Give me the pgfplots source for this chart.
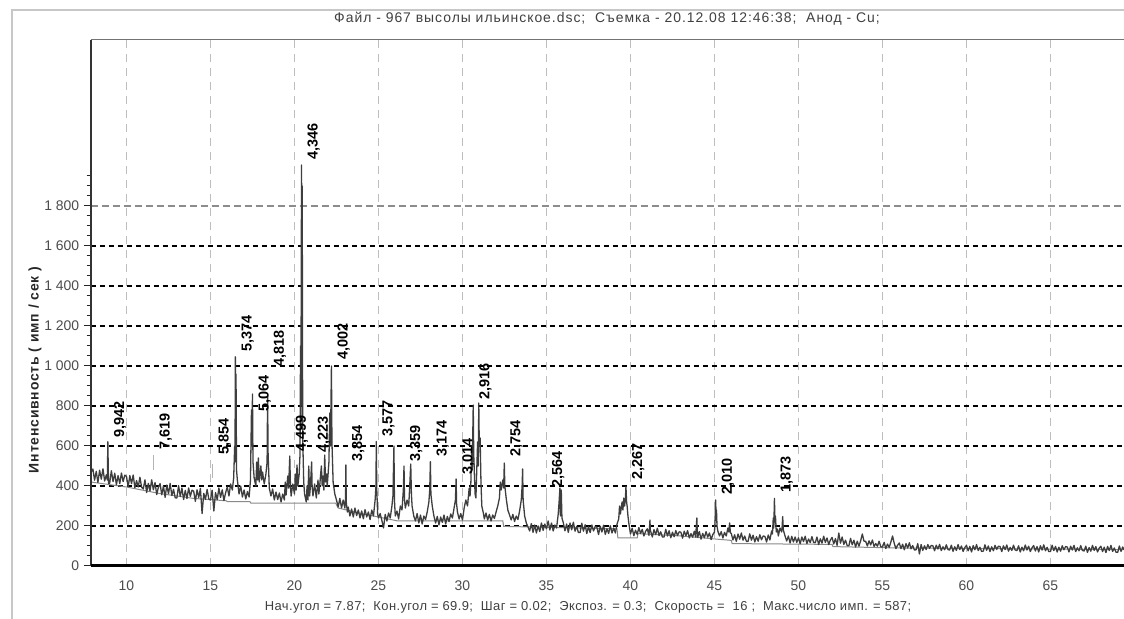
\documentclass[border=0pt]{standalone}
\usepackage{fontspec}
\setmainfont{Liberation Sans}
\usepackage{pgfplots}
\pgfplotsset{compat=1.18}
\definecolor{dat}{HTML}{3E3E3E}
\definecolor{bas}{HTML}{8A8A8A}
\definecolor{stk}{HTML}{B4B4B4}
\definecolor{vgrid}{HTML}{BDBDBD}
\newcommand{\pk}[3]{\node[rotate=90, anchor=north west, inner sep=0pt, font=\bfseries\fontsize{14.5}{16}\selectfont] at (axis cs:#1,#2) {#3};}
\begin{document}
\begin{tikzpicture}[x=1bp,y=1bp]
\useasboundingbox (0,0) rectangle (1124,619);
\fill[white] (0,0) rectangle (1124,619);
\draw[black!22, line width=1.5bp] (12,0) -- (12,609) -- (1124,609);
\node[font=\fontsize{14}{16}\selectfont\addfontfeatures{LetterSpace=7}, text=black!75] at (607,600) {Файл - 967 высолы ильинское.dsc;\ \ Съемка - 20.12.08 12:46:38;\ \ Анод - Cu;};
\node[font=\fontsize{13}{15}\selectfont\addfontfeatures{LetterSpace=3}, text=black!75] at (588,12) {Нач.угол = 7.87;\ \ Кон.угол = 69.9;\ \ Шаг = 0.02;\ \ Экспоз. = 0.3;\ \ Скорость = \ 16 ;\ \ Макс.число имп. = 587;};
\node[rotate=90, font=\bfseries\fontsize{14}{16}\selectfont\addfontfeatures{LetterSpace=6}, text=black!85] at (35,249) {Интенсивность ( имп / сек )};
\begin{axis}[
  at={(90.7bp,53bp)}, anchor=south west, scale only axis,
  width=1033.3bp, height=526bp,
  xmin=7.87, xmax=69.38, ymin=0, ymax=2630,
  clip=false,
  axis line style={draw=none},
  xtick={10,15,20,25,30,35,40,45,50,55,60,65},
  xticklabels={10,15,20,25,30,35,40,45,50,55,60,65},
  xmajorgrids=true,
  major grid style={vgrid, line width=0.9bp, dash pattern=on 8bp off 6bp},
  major x tick style={draw=none},
  xticklabel style={font=\fontsize{14}{16}\selectfont, text=black!70, yshift=-4bp},
  ytick={0,200,400,600,800,1000,1200,1400,1600,1800},
  yticklabels={0,200,400,600,800,1 000,1 200,1 400,1 600,1 800},
  minor ytick={50,100,150,250,300,350,450,500,550,650,700,750,850,900,950,1050,1100,1150,1250,1300,1350,1450,1500,1550,1650,1700,1750,1850,1900,1950},
  ytick pos=left, tick align=outside,
  major tick length=7bp, minor tick length=4bp,
  every tick/.style={black!85, line width=1bp},
  yticklabel style={font=\fontsize{14}{16}\selectfont, text=black!70, xshift=-1bp},
  extra y ticks={200,400,600,800,1000,1200,1400,1600},
  extra y tick labels={},
  extra y tick style={grid=major, major tick length=0pt, major grid style={black, line width=1.1bp, dash pattern=on 5bp off 4bp}},
]
\draw[black!45, line width=1.6bp, dash pattern=on 7bp off 4bp] (axis cs:7.87,1800) -- (axis cs:69.38,1800);
% light grey peak markers
\addplot[stk, line width=1.6bp] coordinates {(11.605,480) (11.605,555)};
\addplot[stk, line width=1.6bp] coordinates {(15.123,440) (15.123,510)};
\addplot[stk, line width=1.6bp] coordinates {(35.0,300) (35.0,355)};
% background line
\addplot[bas, line width=1bp] coordinates {(7.87,420) (10,395) (12,362) (14,338) (15.95,326) (16.0,322) (17.35,322) (17.4,314) (22.45,314) (22.6,290) (24,262) (26.1,226) (32.4,226) (32.45,198) (39.2,186) (39.25,140) (40.4,140) (40.45,162) (43,150) (46,128) (46.05,112) (52,108) (52.05,97) (56,90) (69.38,82)};
% measured pattern
\addplot[dat, line width=1.3bp, line join=round] table[row sep=\\] {
x y\\
7.9 470\\
8.0 485\\ 8.1 429\\ 8.2 473\\ 8.3 417\\ 8.4 479\\ 8.5 434\\ 8.6 486\\ 8.7 425\\ 8.8 456\\ 8.86 430\\ 8.89 622\\ 8.93 413\\
9.0 414\\ 9.1 476\\ 9.2 422\\ 9.3 464\\ 9.4 406\\ 9.5 452\\ 9.6 412\\ 9.7 465\\ 9.8 422\\ 9.9 454\\
10.0 448\\ 10.1 396\\ 10.2 452\\ 10.3 412\\ 10.4 455\\ 10.5 391\\ 10.6 427\\ 10.7 395\\ 10.8 444\\ 10.9 394\\
11.0 385\\ 11.1 431\\ 11.2 367\\ 11.3 413\\ 11.4 375\\ 11.5 431\\ 11.6 381\\ 11.7 417\\ 11.8 357\\ 11.9 394\\
12.0 412\\ 12.1 356\\ 12.2 400\\ 12.3 343\\ 12.4 405\\ 12.5 361\\ 12.6 413\\ 12.7 352\\ 12.8 383\\ 12.9 341\\
13.0 340\\ 13.1 402\\ 13.2 348\\ 13.3 390\\ 13.4 332\\ 13.5 378\\ 13.6 337\\ 13.7 390\\ 13.8 348\\ 13.9 379\\
14.0 374\\ 14.1 323\\ 14.2 381\\ 14.3 342\\ 14.4 388\\ 14.5 262\\ 14.6 363\\ 14.7 333\\ 14.8 383\\ 14.9 335\\
15.0 330\\ 15.1 379\\ 15.2 275\\ 15.3 367\\ 15.4 331\\ 15.5 390\\ 15.6 343\\ 15.7 381\\ 15.8 327\\ 15.9 366\\
16.0 395\\ 16.1 350\\ 16.2 410\\ 16.3 380\\ 16.38 440\\ 16.44 600\\ 16.46 520\\ 16.48 1046\\ 16.5 620\\ 16.52 960\\ 16.55 480\\ 16.6 430\\ 16.7 360\\ 16.8 400\\ 16.9 345\\
17.0 380\\ 17.1 335\\ 17.2 372\\ 17.3 345\\ 17.38 430\\ 17.44 780\\ 17.46 600\\ 17.5 860\\ 17.53 520\\ 17.6 440\\ 17.7 400\\ 17.75 520\\ 17.8 430\\ 17.85 540\\ 17.9 420\\
18.0 500\\ 18.05 430\\ 18.1 470\\ 18.2 410\\ 18.3 460\\ 18.37 520\\ 18.4 850\\ 18.43 560\\ 18.5 390\\ 18.6 350\\ 18.7 385\\ 18.8 330\\ 18.9 370\\
19.0 332\\ 19.1 365\\ 19.2 320\\ 19.3 360\\ 19.4 330\\ 19.45 420\\ 19.5 355\\ 19.6 450\\ 19.65 390\\ 19.72 550\\ 19.76 400\\ 19.8 350\\ 19.9 410\\
20.0 360\\ 20.05 460\\ 20.1 380\\ 20.15 505\\ 20.2 400\\ 20.28 460\\ 20.33 560\\ 20.36 1100\\ 20.38 700\\ 20.42 2005\\ 20.44 1500\\ 20.46 1900\\ 20.49 640\\ 20.55 420\\ 20.6 360\\ 20.7 320\\ 20.75 400\\ 20.8 330\\ 20.85 500\\ 20.9 350\\ 20.95 400\\
21.02 520\\ 21.05 400\\ 21.1 350\\ 21.2 410\\ 21.3 340\\ 21.4 430\\ 21.45 360\\ 21.5 400\\ 21.6 500\\ 21.65 400\\ 21.7 450\\ 21.75 380\\ 21.8 555\\ 21.85 420\\ 21.9 460\\ 21.95 400\\
22.05 520\\ 22.1 765\\ 22.14 600\\ 22.2 1000\\ 22.23 620\\ 22.3 420\\ 22.4 360\\ 22.5 330\\ 22.6 295\\ 22.7 338\\ 22.8 290\\ 22.9 330\\
23.0 290\\ 23.04 340\\ 23.06 505\\ 23.08 320\\ 23.15 270\\ 23.2 295\\ 23.3 250\\ 23.4 285\\ 23.5 245\\ 23.6 290\\ 23.7 252\\ 23.8 280\\ 23.9 240\\
24.0 275\\ 24.1 236\\ 24.2 282\\ 24.3 245\\ 24.4 270\\ 24.5 232\\ 24.6 280\\ 24.7 250\\ 24.8 330\\ 24.85 400\\ 24.87 622\\ 24.9 380\\ 24.95 260\\
25.0 240\\ 25.1 262\\ 25.2 228\\ 25.3 190\\ 25.4 258\\ 25.5 225\\ 25.6 265\\ 25.7 240\\ 25.8 300\\ 25.86 350\\ 25.92 600\\ 25.95 330\\
26.0 250\\ 26.1 275\\ 26.2 235\\ 26.3 300\\ 26.4 280\\ 26.48 380\\ 26.52 500\\ 26.55 330\\ 26.6 290\\ 26.7 330\\ 26.8 300\\ 26.86 400\\ 26.92 510\\ 26.96 360\\
27.0 300\\ 27.1 250\\ 27.2 225\\ 27.3 262\\ 27.4 215\\ 27.5 255\\ 27.6 210\\ 27.7 250\\ 27.8 232\\ 27.9 270\\
28.0 320\\ 28.05 380\\ 28.09 522\\ 28.12 360\\ 28.2 300\\ 28.3 250\\ 28.4 215\\ 28.5 248\\ 28.6 205\\ 28.7 245\\ 28.8 218\\ 28.9 255\\
29.0 210\\ 29.1 248\\ 29.2 222\\ 29.3 260\\ 29.4 240\\ 29.5 290\\ 29.58 330\\ 29.62 435\\ 29.65 310\\ 29.7 270\\ 29.8 235\\ 29.9 262\\
30.0 230\\ 30.1 290\\ 30.2 330\\ 30.3 300\\ 30.4 390\\ 30.45 350\\ 30.5 420\\ 30.55 600\\ 30.58 480\\ 30.64 805\\ 30.67 560\\ 30.7 480\\ 30.75 360\\ 30.8 340\\ 30.85 480\\ 30.9 620\\ 30.94 500\\ 30.97 815\\
31.0 600\\ 31.05 640\\ 31.1 420\\ 31.15 300\\ 31.25 262\\ 31.3 235\\ 31.4 265\\ 31.5 230\\ 31.6 258\\ 31.7 225\\ 31.8 255\\ 31.9 238\\
32.0 270\\ 32.1 300\\ 32.2 340\\ 32.25 420\\ 32.3 380\\ 32.4 430\\ 32.45 390\\ 32.49 515\\ 32.52 400\\ 32.6 340\\ 32.7 280\\ 32.8 255\\ 32.9 230\\
33.0 258\\ 33.1 222\\ 33.2 250\\ 33.3 232\\ 33.4 275\\ 33.5 330\\ 33.55 400\\ 33.58 485\\ 33.61 330\\ 33.7 250\\ 33.8 215\\ 33.9 195\\
34.0 175\\ 34.1 212\\ 34.2 168\\ 34.3 205\\ 34.4 165\\ 34.5 200\\ 34.6 172\\ 34.7 215\\ 34.8 178\\ 34.9 210\\
35.0 185\\ 35.1 225\\ 35.2 180\\ 35.3 215\\ 35.4 175\\ 35.5 205\\ 35.6 190\\ 35.7 260\\ 35.75 320\\ 35.8 390\\ 35.83 250\\ 35.88 380\\ 35.92 240\\
36.0 217\\ 36.1 176\\ 36.2 210\\ 36.3 168\\ 36.4 215\\ 36.5 181\\ 36.6 219\\ 36.7 174\\ 36.8 198\\ 36.9 167\\
37.0 167\\ 37.1 214\\ 37.2 174\\ 37.3 206\\ 37.4 162\\ 37.5 196\\ 37.6 167\\ 37.7 205\\ 37.8 175\\ 37.9 198\\
38.0 194\\ 38.1 157\\ 38.2 199\\ 38.3 170\\ 38.4 204\\ 38.5 158\\ 38.6 186\\ 38.7 163\\ 38.8 201\\ 38.9 165\\
39.0 190\\ 39.1 165\\ 39.2 210\\ 39.3 235\\ 39.35 300\\ 39.4 260\\ 39.5 320\\ 39.55 280\\ 39.6 340\\ 39.65 300\\ 39.7 340\\ 39.73 397\\ 39.77 320\\ 39.8 300\\ 39.85 250\\ 39.9 215\\
40.0 160\\ 40.1 189\\ 40.2 151\\ 40.3 179\\ 40.4 158\\ 40.5 192\\ 40.6 162\\ 40.7 183\\ 40.8 150\\ 40.9 173\\
41.0 186\\ 41.1 153\\ 41.14 200\\ 41.16 230\\ 41.18 180\\ 41.3 145\\ 41.4 182\\ 41.5 157\\ 41.6 189\\ 41.7 152\\ 41.8 171\\ 41.9 145\\
42.0 145\\ 42.1 183\\ 42.2 150\\ 42.3 176\\ 42.4 141\\ 42.5 169\\ 42.6 146\\ 42.7 177\\ 42.8 152\\ 42.9 171\\
43.0 169\\ 43.1 139\\ 43.2 174\\ 43.3 151\\ 43.4 177\\ 43.5 140\\ 43.6 162\\ 43.7 144\\ 43.8 174\\ 43.88 145\\ 43.92 200\\ 43.95 240\\ 43.98 170\\
44.0 143\\ 44.1 172\\ 44.2 134\\ 44.3 163\\ 44.4 141\\ 44.5 172\\ 44.6 144\\ 44.7 165\\ 44.8 132\\ 44.9 157\\
45.0 170\\ 45.04 230\\ 45.07 330\\ 45.1 240\\ 45.12 280\\ 45.15 200\\ 45.2 175\\ 45.3 150\\ 45.4 172\\ 45.5 140\\ 45.6 168\\ 45.7 150\\ 45.8 190\\ 45.85 170\\ 45.9 215\\ 45.95 165\\
46.0 163\\ 46.1 130\\ 46.2 156\\ 46.3 123\\ 46.4 160\\ 46.5 134\\ 46.6 165\\ 46.7 129\\ 46.8 150\\ 46.9 123\\
47.0 123\\ 47.1 161\\ 47.2 129\\ 47.3 154\\ 47.4 120\\ 47.5 147\\ 47.6 124\\ 47.7 156\\ 47.8 131\\ 47.9 150\\
48.0 148\\ 48.1 120\\ 48.2 155\\ 48.3 130\\ 48.4 175\\ 48.45 160\\ 48.5 240\\ 48.53 190\\ 48.57 338\\ 48.6 220\\ 48.63 250\\ 48.68 170\\ 48.75 185\\ 48.8 150\\ 48.9 190\\
49.0 170\\ 49.03 200\\ 49.06 247\\ 49.1 180\\ 49.2 150\\ 49.3 125\\ 49.4 150\\ 49.5 115\\ 49.6 148\\ 49.7 120\\ 49.8 145\\ 49.9 118\\
50.0 141\\ 50.1 111\\ 50.2 145\\ 50.3 122\\ 50.4 149\\ 50.5 112\\ 50.6 135\\ 50.7 117\\ 50.8 147\\ 50.9 118\\
51.0 116\\ 51.1 145\\ 51.2 107\\ 51.3 136\\ 51.4 114\\ 51.5 149\\ 51.6 118\\ 51.7 140\\ 51.8 107\\ 51.9 130\\
52.0 143\\ 52.1 110\\ 52.2 137\\ 52.3 103\\ 52.4 165\\ 52.5 114\\ 52.6 145\\ 52.7 108\\ 52.8 129\\ 52.9 102\\
53.0 101\\ 53.1 138\\ 53.2 106\\ 53.3 129\\ 53.4 95\\ 53.5 124\\ 53.6 99\\ 53.7 126\\ 53.8 160\\ 53.9 124\\
54.0 123\\ 54.1 100\\ 54.2 126\\ 54.3 105\\ 54.4 130\\ 54.5 98\\ 54.6 112\\ 54.7 99\\ 54.8 124\\ 54.9 96\\
55.0 95\\ 55.1 118\\ 55.2 87\\ 55.3 110\\ 55.4 93\\ 55.5 120\\ 55.6 150\\ 55.7 113\\ 55.8 87\\ 55.9 104\\
56.0 115\\ 56.1 87\\ 56.2 109\\ 56.3 81\\ 56.4 112\\ 56.5 90\\ 56.6 116\\ 56.7 86\\ 56.8 102\\ 56.9 80\\
57.0 81\\ 57.1 112\\ 57.2 60\\ 57.3 107\\ 57.4 78\\ 57.5 101\\ 57.6 82\\ 57.7 107\\ 57.8 88\\ 57.9 103\\
58.0 101\\ 58.1 76\\ 58.2 104\\ 58.3 85\\ 58.4 108\\ 58.5 77\\ 58.6 96\\ 58.7 81\\ 58.8 106\\ 58.9 82\\
59.0 80\\ 59.1 104\\ 59.2 73\\ 59.3 96\\ 59.4 78\\ 59.5 107\\ 59.6 82\\ 59.7 100\\ 59.8 73\\ 59.9 92\\
60.0 103\\ 60.1 76\\ 60.2 98\\ 60.3 70\\ 60.4 102\\ 60.5 81\\ 60.6 107\\ 60.7 77\\ 60.8 94\\ 60.9 73\\
61.0 74\\ 61.1 106\\ 61.2 79\\ 61.3 100\\ 61.4 72\\ 61.5 96\\ 61.6 76\\ 61.7 103\\ 61.8 83\\ 61.9 99\\
62.0 97\\ 62.1 72\\ 62.2 101\\ 62.3 82\\ 62.4 105\\ 62.5 74\\ 62.6 93\\ 62.7 78\\ 62.8 104\\ 62.9 80\\
63.0 77\\ 63.1 101\\ 63.2 70\\ 63.3 94\\ 63.4 76\\ 63.5 105\\ 63.6 80\\ 63.7 99\\ 63.8 72\\ 63.9 91\\
64.0 102\\ 64.1 75\\ 64.2 97\\ 64.3 70\\ 64.4 101\\ 64.5 80\\ 64.6 106\\ 64.7 76\\ 64.8 93\\ 64.9 72\\
65.0 72\\ 65.1 104\\ 65.2 77\\ 65.3 98\\ 65.4 70\\ 65.5 94\\ 65.6 74\\ 65.7 101\\ 65.8 81\\ 65.9 97\\
66.0 95\\ 66.1 70\\ 66.2 99\\ 66.3 80\\ 66.4 103\\ 66.5 72\\ 66.6 91\\ 66.7 76\\ 66.8 102\\ 66.9 78\\
67.0 75\\ 67.1 99\\ 67.2 68\\ 67.3 92\\ 67.4 74\\ 67.5 103\\ 67.6 78\\ 67.7 97\\ 67.8 70\\ 67.9 89\\
68.0 99\\ 68.1 72\\ 68.2 94\\ 68.3 67\\ 68.4 98\\ 68.5 77\\ 68.6 103\\ 68.7 73\\ 68.8 90\\ 68.9 69\\
69.0 68\\ 69.1 100\\ 69.2 73\\ 69.3 95\\ 69.38 82\\
};
% frame
\draw[black!80, line width=2.4bp] (rel axis cs:0,0) -- (rel axis cs:0,1);
\draw[black, line width=3bp] (rel axis cs:0,0) -- (rel axis cs:1,0);
\draw[black!55, line width=1bp] (rel axis cs:0,1) -- (rel axis cs:1,1);
% peak labels (d-spacings)
\pk{9.24}{640}{9,942}
\pk{11.96}{580}{7,619}
\pk{15.47}{555}{5,854}
\pk{16.83}{1070}{5,374}
\pk{17.85}{770}{5,064}
\pk{18.75}{995}{4,818}
\pk{20.07}{570}{4,499}
\pk{20.77}{2030}{4,346}
\pk{21.37}{565}{4,223}
\pk{22.55}{1030}{4,002}
\pk{23.41}{520}{3,854}
\pk{25.22}{645}{3,577}
\pk{26.87}{520}{3,359}
\pk{28.44}{545}{3,174}
\pk{29.97}{455}{3,014}
\pk{30.99}{830}{2,916}
\pk{32.84}{545}{2,754}
\pk{35.32}{390}{2,564}
\pk{40.08}{430}{2,267}
\pk{45.42}{355}{2,010}
\pk{48.92}{365}{1,873}
\end{axis}
\end{tikzpicture}
\end{document}
